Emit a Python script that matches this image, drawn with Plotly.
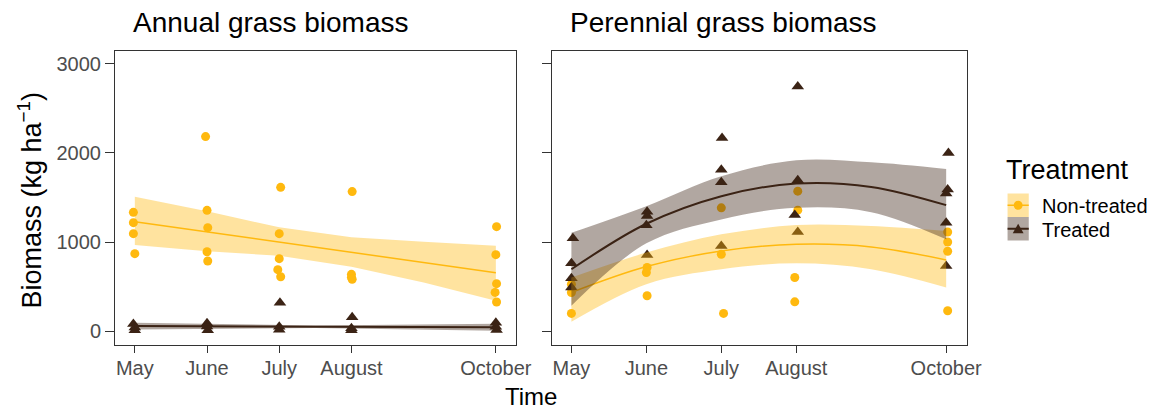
import plotly.graph_objects as go

W, H = 1172, 411

# ---------------- data ----------------
month_ticks = [5, 6, 7, 8, 10]
month_labels = ["May", "June", "July", "August", "October"]

# Annual grass, non-treated points
ann_nt_x = [4.98, 4.98, 4.98, 5.0, 5.98, 6.0, 6.01, 6.0, 6.01, 7.02, 7.0, 7.0, 6.98, 7.02,
            8.01, 8.0, 8.0, 8.01, 10.01, 10.0, 10.01, 9.99, 10.01]
ann_nt_y = [1333, 1217, 1094, 869, 2184, 1356, 1161, 891, 787, 1614, 1094, 813, 689, 610,
            1566, 637, 603, 581, 1172, 858, 532, 434, 326]
# Annual grass, treated points
ann_t_x = [4.98, 5.0, 5.0, 6.0, 6.01, 6.0, 7.01, 7.0, 7.0, 8.01, 8.0, 8.0, 10.0, 10.01, 10.0]
ann_t_y = [79, 10, 40, 86, 10, 50, 318, 49, 15, 154, 30, 10, 94, 11, 49]

# Perennial grass, non-treated points
per_nt_x = [5.0, 5.0, 5.0, 6.01, 6.0, 6.01, 7.0, 7.0, 7.03, 8.02, 8.02, 7.98, 7.98,
            10.02, 10.02, 10.02, 10.02]
per_nt_y = [526, 433, 198, 713, 657, 396, 1384, 862, 198, 1571, 1358, 601, 328,
            1112, 1000, 896, 228]
# Perennial grass, treated points
per_t_x = [5.02, 5.0, 5.0, 5.0, 6.01, 6.01, 6.0, 6.01, 7.01, 7.0, 7.0, 7.0,
           8.02, 8.02, 7.98, 8.02, 10.03, 10.02, 10.0, 10.0, 10.0]
per_t_y = [1041, 761, 593, 489, 1340, 1291, 1187, 854, 2168, 1813, 1672, 955,
           2746, 1694, 1302, 1112, 2000, 1590, 1545, 1216, 731]

# Fitted curves and confidence bands
fit_x = [5, 6, 7, 8, 9, 10]
ann_nt_fit = [1228, 1114, 1000, 885, 770, 655]
ann_nt_up = [1509, 1345, 1165, 1052, 1002, 959]
ann_nt_lo = [966, 895, 845, 723, 545, 341]

ann_t_fx = [5, 7.5, 10]
ann_t_fit = [56, 48, 41]
ann_t_up = [92, 62, 82]
ann_t_lo = [18, 34, 2]

per_nt_fit = [433, 724, 899, 974, 945, 799]
per_nt_up = [600, 881, 1086, 1190, 1179, 1123]
per_nt_lo = [104, 526, 694, 761, 694, 489]

per_t_fit = [694, 1205, 1515, 1657, 1619, 1414]
per_t_up = [1104, 1403, 1739, 1918, 1896, 1821]
per_t_lo = [284, 985, 1254, 1384, 1335, 1030]

# ---------------- style ----------------
YEL = "#FFB90F"
BRN = "#3B2315"
YEL_F = "rgba(255,185,15,0.4)"
BRN_F = "rgba(59,35,21,0.4)"
FONT = "Liberation Sans, Arial, sans-serif"

fig = go.Figure()


def points(x, y, color, symbol, size, xa, ya):
    fig.add_trace(go.Scatter(x=x, y=y, mode="markers", xaxis=xa, yaxis=ya,
                             marker=dict(color=color, symbol=symbol, size=size,
                                         line=dict(width=0)),
                             showlegend=False, hoverinfo="skip"))


def band(x, lo, up, fit, fill, color, lw, shape, xa, ya):
    fig.add_trace(go.Scatter(x=x, y=lo, mode="lines", xaxis=xa, yaxis=ya,
                             line=dict(width=0, shape=shape, color=fill),
                             showlegend=False, hoverinfo="skip"))
    fig.add_trace(go.Scatter(x=x, y=up, mode="lines", xaxis=xa, yaxis=ya,
                             fill="tonexty", fillcolor=fill,
                             line=dict(width=0, shape=shape, color=fill),
                             showlegend=False, hoverinfo="skip"))
    fig.add_trace(go.Scatter(x=x, y=fit, mode="lines", xaxis=xa, yaxis=ya,
                             line=dict(width=lw, shape=shape, color=color),
                             showlegend=False, hoverinfo="skip"))


# left panel
points(ann_nt_x, ann_nt_y, YEL, "circle", 9, "x", "y")
points(ann_t_x, ann_t_y, BRN, "triangle-up", 11, "x", "y")
band(fit_x, ann_nt_lo, ann_nt_up, ann_nt_fit, YEL_F, YEL, 1.5, "linear", "x", "y")
band(ann_t_fx, ann_t_lo, ann_t_up, ann_t_fit, BRN_F, BRN, 2, "linear", "x", "y")

# right panel
points(per_nt_x, per_nt_y, YEL, "circle", 9, "x2", "y2")
points(per_t_x, per_t_y, BRN, "triangle-up", 11, "x2", "y2")
band(fit_x, per_nt_lo, per_nt_up, per_nt_fit, YEL_F, YEL, 1.5, "spline", "x2", "y2")
band(fit_x, per_t_lo, per_t_up, per_t_fit, BRN_F, BRN, 2, "spline", "x2", "y2")


def px(x):
    return x / W


def py(y):
    return 1 - y / H


axis_common = dict(showline=True, mirror=True, linecolor="#333333", linewidth=1.2,
                   ticks="outside", tickcolor="#333333", tickwidth=1.2,
                   showgrid=False, zeroline=False,
                   tickfont=dict(family=FONT, size=20, color="#4D4D4D"))

ydom = [py(345), py(50.7)]
fig.update_layout(
    width=W, height=H, autosize=False,
    margin=dict(l=0, r=0, t=0, b=0),
    paper_bgcolor="white", plot_bgcolor="white",
    font=dict(family=FONT),
    xaxis=dict(domain=[px(116.7), px(522.7)], range=[4.727, 10.273],
               tickvals=month_ticks, ticktext=month_labels, ticklen=7,
               ticklabelstandoff=-2, anchor="y", **axis_common),
    xaxis2=dict(domain=[px(560), px(980.7)], range=[4.746, 10.282],
                tickvals=month_ticks, ticktext=month_labels, ticklen=7,
                ticklabelstandoff=-2, anchor="y2", **axis_common),
    yaxis=dict(domain=ydom, range=[-157, 3149], tickvals=[0, 1000, 2000, 3000],
               ticklen=9, anchor="x", **axis_common),
    yaxis2=dict(domain=ydom, range=[-157, 3149], tickvals=[0, 1000, 2000, 3000],
                ticklen=9, showticklabels=False, anchor="x2", **axis_common),
)

ann = []
ann.append(dict(text="Annual grass biomass", x=px(133), y=py(22), xref="paper", yref="paper",
                xanchor="left", yanchor="middle", showarrow=False,
                font=dict(family=FONT, size=28, color="black")))
ann.append(dict(text="Perennial grass biomass", x=px(576), y=py(22), xref="paper", yref="paper",
                xanchor="left", yanchor="middle", showarrow=False,
                font=dict(family=FONT, size=28, color="black")))
ann.append(dict(text="Time", x=px(538), y=py(396), xref="paper", yref="paper",
                xanchor="center", yanchor="middle", showarrow=False,
                font=dict(family=FONT, size=24, color="black")))
ann.append(dict(text="Biomass (kg ha<sup>−1</sup>)", x=px(30), y=py(200), xref="paper",
                yref="paper", xanchor="center", yanchor="middle", showarrow=False,
                textangle=-90, font=dict(family=FONT, size=27, color="black")))
ann.append(dict(text="Treatment", x=px(1018), y=py(170), xref="paper", yref="paper",
                xanchor="left", yanchor="middle", showarrow=False,
                font=dict(family=FONT, size=27, color="black")))
ann.append(dict(text="Non-treated", x=px(1054), y=py(206), xref="paper", yref="paper",
                xanchor="left", yanchor="middle", showarrow=False,
                font=dict(family=FONT, size=20, color="black")))
ann.append(dict(text="Treated", x=px(1054), y=py(229.5), xref="paper", yref="paper",
                xanchor="left", yanchor="middle", showarrow=False,
                font=dict(family=FONT, size=20, color="black")))
fig.update_layout(annotations=ann)

# legend keys (drawn manually, ggplot style)
shapes = []
kx0, kx1 = 1021.5, 1043
keys = [(193.5, 217, YEL_F, YEL, 1.5, "circle"), (217, 240.5, BRN_F, BRN, 2, "tri")]
for y0, y1, fill, col, lw, mk in keys:
    cy = (y0 + y1) / 2
    shapes.append(dict(type="rect", xref="paper", yref="paper", x0=px(kx0), x1=px(kx1),
                       y0=py(y1), y1=py(y0), fillcolor=fill, line=dict(width=0), layer="above"))
    shapes.append(dict(type="line", xref="paper", yref="paper", x0=px(kx0), x1=px(kx1),
                       y0=py(cy), y1=py(cy), line=dict(color=col, width=lw), layer="above"))
    cx = (kx0 + kx1) / 2
    if mk == "circle":
        r = 4.5
        shapes.append(dict(type="circle", xref="paper", yref="paper",
                           x0=px(cx - r), x1=px(cx + r), y0=py(cy + r), y1=py(cy - r),
                           fillcolor=col, line=dict(width=0), layer="above"))
    else:
        pts = [(cx - 5.5, cy + 4.5), (cx + 5.5, cy + 4.5), (cx, cy - 5)]
        path = "M {} {} L {} {} L {} {} Z".format(
            *[v for p in pts for v in (px(p[0]), py(p[1]))])
        shapes.append(dict(type="path", xref="paper", yref="paper", path=path,
                           fillcolor=col, line=dict(width=0), layer="above"))
fig.update_layout(shapes=shapes)

fig.write_html("out.html", config={"displayModeBar": False},
               post_script="document.body.style.margin='0px';document.body.style.padding='0px';")
